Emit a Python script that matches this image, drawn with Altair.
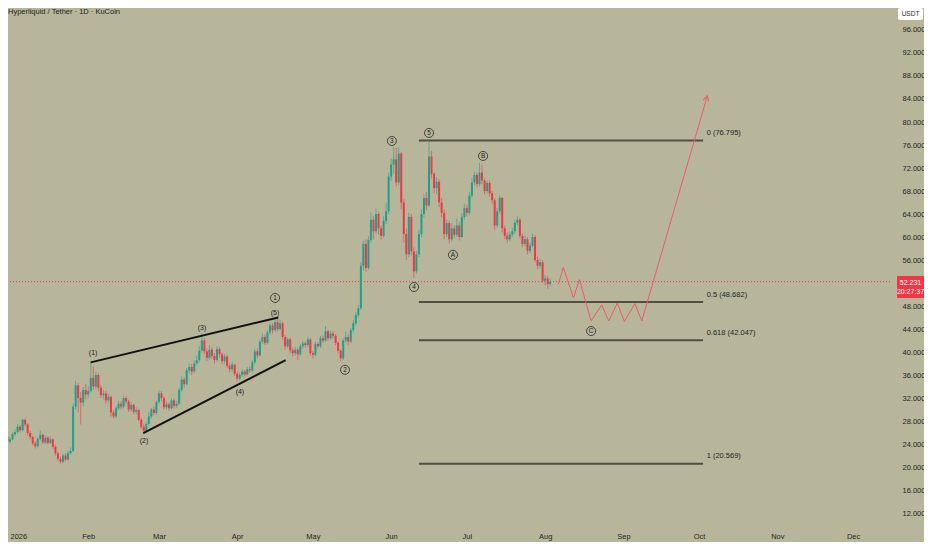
import altair as alt
import pandas as pd

FONT = "Liberation Sans Narrow, Liberation Sans, sans-serif"
BG = "#b7b69b"
UP = "#1ea18a"
DOWN = "#f23645"
TXT = "#232323"
PROJ = "#ee5a64"
FIBC = "#4f4f42"

# ---------------- candle data (daily, from 2025-12-28) ----------------
start_date = "2025-12-28"
first_open = 25.4
closes = [
    25.6, 25.9, 25.3, 24.4, 24.8, 25.7, 26.1, 27.0, 26.4, 28.2,
    27.4, 25.9, 25.2, 24.1, 23.6, 24.9, 25.6, 24.3, 25.1, 24.2,
    24.8, 23.5, 22.4, 21.4, 20.9, 22.0, 21.3, 22.4, 22.8, 30.5,
    34.2, 32.0, 31.2, 33.4, 32.6, 33.2, 35.5, 34.0, 36.0, 33.8,
    32.5, 32.8, 31.6, 32.2, 29.5, 28.8, 30.2, 31.0, 30.5, 32.0,
    31.4, 30.0, 30.8, 29.6, 29.9, 28.2, 27.0, 26.3, 27.5, 28.8,
    30.0, 29.4, 31.3, 32.8, 32.0, 30.4, 30.9, 30.2, 31.6, 30.6,
    31.0, 33.4, 35.2, 34.4, 36.8, 37.4, 36.6, 38.0, 38.6, 40.2,
    42.0, 40.1, 39.0, 40.4, 39.3, 38.6, 40.5, 39.6, 38.4, 39.2,
    37.6, 37.0, 37.8, 36.2, 35.4, 36.0, 36.6, 36.1, 37.0, 36.8,
    38.2, 40.1, 39.4, 41.8, 42.6, 41.6, 43.4, 44.6, 43.8, 45.2,
    44.0, 45.0, 42.6, 41.0, 42.2, 40.3, 39.8, 40.4, 39.6, 41.0,
    41.5, 41.2, 42.2, 39.8, 39.5, 41.4, 41.0, 42.4, 42.0, 43.6,
    42.4, 43.2, 42.8, 41.6, 40.2, 38.9, 42.0, 42.6, 41.8, 43.8,
    45.0, 46.4, 47.6, 55.0, 58.8, 54.6, 59.5, 63.0, 61.0, 64.0,
    61.5, 60.2, 62.8, 64.5, 70.5, 72.6, 73.5, 69.5, 74.5, 66.0,
    60.5, 57.0, 63.5, 57.5, 54.0, 57.0, 60.5, 64.0, 66.8, 65.5,
    74.0, 71.0, 68.5, 69.6, 66.0, 64.2, 60.5, 62.4, 59.6, 61.5,
    60.4, 62.0, 60.0, 63.5, 65.0, 64.2, 67.2, 69.5, 70.8, 69.2,
    71.2, 69.8, 68.0, 69.4, 67.6, 66.4, 62.0, 64.5, 66.8, 61.5,
    60.2, 59.6, 60.4, 61.0, 62.5, 63.0, 60.2, 58.8, 59.6, 57.6,
    58.5, 60.0, 56.0, 55.0, 55.6, 52.4, 52.8, 51.8, 52.231,
]
highs = [
    26.1, 26.3, 26.2, 25.6, 25.2, 26.0, 26.6, 27.5, 27.3, 28.4,
    28.5, 27.6, 26.3, 25.4, 24.5, 25.2, 26.4, 25.8, 25.5, 25.4,
    25.3, 25.0, 23.8, 22.6, 21.8, 22.3, 22.4, 22.8, 23.4, 31.0,
    35.0, 34.6, 33.0, 33.9, 34.4, 34.0, 38.3, 37.5, 36.5, 36.3,
    34.2, 33.4, 33.2, 32.8, 32.4, 29.9, 30.6, 31.5, 31.4, 32.4,
    32.3, 31.7, 31.3, 31.0, 30.4, 30.1, 28.5, 27.4, 27.9, 29.6,
    30.3, 30.5, 31.6, 33.4, 33.2, 32.3, 31.4, 31.2, 32.0, 31.9,
    31.5, 33.8, 35.8, 35.6, 37.2, 38.0, 37.9, 38.5, 39.4, 41.0,
    43.3, 42.4, 40.6, 41.2, 40.8, 39.8, 41.0, 40.9, 39.9, 39.7,
    39.5, 38.0, 38.3, 38.0, 36.6, 36.4, 37.0, 36.9, 37.4, 37.5,
    38.6, 40.5, 40.6, 42.2, 43.2, 43.0, 43.8, 45.1, 45.0, 45.9,
    45.8, 45.6, 45.3, 43.0, 42.6, 42.5, 40.8, 40.9, 40.7, 41.4,
    41.9, 41.8, 42.6, 42.4, 40.2, 41.8, 41.7, 42.8, 42.9, 44.5,
    43.9, 43.7, 43.6, 43.1, 41.9, 40.5, 42.4, 43.6, 43.0, 44.2,
    45.6, 46.9, 48.2, 55.6, 59.4, 59.6, 60.2, 64.3, 63.6, 65.0,
    64.4, 62.0, 63.6, 66.0, 71.2, 73.6, 75.7, 75.5, 75.6, 74.8,
    66.6, 61.5, 64.2, 64.0, 58.2, 57.6, 61.2, 64.8, 67.5, 67.8,
    76.795, 75.0, 71.2, 70.4, 70.0, 66.8, 64.8, 63.0, 62.8, 62.4,
    62.0, 63.2, 62.6, 64.2, 65.8, 65.6, 67.8, 70.2, 71.4, 71.2,
    72.9, 72.6, 70.2, 69.8, 69.8, 68.0, 66.8, 65.0, 67.2, 67.0,
    62.0, 60.8, 60.9, 61.6, 63.0, 63.6, 63.3, 60.6, 60.2, 60.0,
    59.0, 60.6, 60.3, 56.6, 56.2, 56.0, 53.4, 53.2, 52.8,
]
lows = [
    25.0, 25.3, 25.0, 24.0, 24.1, 24.6, 25.4, 25.8, 26.0, 26.2,
    27.0, 25.5, 24.8, 23.8, 23.2, 23.4, 24.6, 24.0, 24.0, 23.9,
    24.0, 23.2, 22.0, 21.0, 20.569, 20.7, 21.0, 21.1, 22.1, 22.6,
    30.0, 29.5, 27.4, 30.6, 31.8, 32.0, 33.0, 33.4, 33.6, 33.2,
    32.0, 31.8, 31.0, 31.2, 28.8, 28.4, 28.5, 29.8, 30.0, 30.2,
    30.9, 29.6, 29.7, 29.2, 29.2, 27.9, 26.6, 25.9, 26.1, 27.2,
    28.4, 29.0, 29.1, 31.0, 31.5, 30.0, 30.0, 29.8, 30.0, 30.2,
    30.3, 30.8, 33.0, 33.8, 34.2, 36.3, 36.0, 36.3, 37.6, 38.2,
    39.8, 39.6, 38.4, 38.6, 38.8, 38.0, 38.3, 39.0, 37.9, 38.0,
    37.2, 36.5, 36.6, 35.8, 34.9, 35.1, 35.7, 35.7, 35.9, 36.4,
    36.5, 37.9, 39.0, 39.2, 41.4, 41.2, 41.3, 43.0, 43.2, 43.5,
    43.6, 43.7, 42.2, 40.4, 40.7, 39.8, 39.2, 39.4, 38.6, 39.3,
    40.6, 40.8, 40.9, 39.4, 38.9, 39.3, 40.6, 40.7, 41.6, 41.8,
    42.0, 42.1, 42.3, 41.2, 39.8, 38.4, 38.6, 41.6, 41.2, 41.5,
    43.4, 44.6, 46.0, 47.3, 54.2, 54.0, 54.3, 59.0, 59.6, 60.6,
    60.4, 59.5, 59.9, 62.2, 64.0, 69.8, 71.0, 68.8, 69.0, 64.8,
    59.0, 56.0, 56.5, 56.8, 52.9, 53.6, 56.5, 60.0, 63.4, 64.6,
    65.2, 70.2, 67.6, 67.4, 65.2, 63.4, 59.6, 60.0, 58.9, 59.2,
    59.8, 60.0, 59.4, 59.8, 63.0, 63.6, 63.8, 66.8, 69.0, 68.6,
    68.8, 69.2, 67.4, 67.6, 67.0, 65.8, 61.2, 61.6, 64.0, 60.8,
    59.6, 59.0, 59.2, 60.0, 60.6, 62.0, 59.8, 58.2, 58.4, 57.0,
    57.2, 58.2, 55.6, 54.4, 54.6, 52.0, 51.6, 51.0, 51.4,
]

# ---------------- annotations ----------------
current_price = 52.231
countdown = "20:27:37"
title_text = "Hyperliquid / Tether · 1D · KuCoin"

wedge_ids = ["upper", "upper", "lower", "lower"]
wedge_dates = ["2026-02-01T23:00", "2026-04-17T07:00", "2026-02-22T19:00", "2026-04-20T05:00"]
wedge_prices = [38.2, 46.0, 25.9, 38.6]

sub_labels = ["(1)", "(2)", "(3)", "(4)", "(5)"]
sub_dates = ["2026-02-02T22:00", "2026-02-23T02:00", "2026-03-18T02:00", "2026-04-02T02:00", "2026-04-16T00:00"]
sub_prices = [39.8, 24.5, 44.2, 33.0, 46.8]

wave_labels = ["1", "2", "3", "4", "5", "A", "B", "C"]
wave_dates = ["2026-04-16T00:00", "2026-05-13T17:00", "2026-06-01T07:00", "2026-06-10T02:00",
              "2026-06-16T00:00", "2026-06-25T12:00", "2026-07-07T10:00", "2026-08-19T05:00"]
wave_prices = [49.4, 36.9, 76.7, 51.3, 78.1, 56.9, 74.1, 43.65]

fib_levels = [76.795, 48.682, 42.047, 20.569]
fib_names = ["0 (76.795)", "0.5 (48.682)", "0.618 (42.047)", "1 (20.569)"]
fib_start = "2026-06-12T00:00"
fib_end = "2026-10-02T14:00"
fib_label_date = "2026-10-04T00:00"

proj_dates = ["2026-08-06T05:00", "2026-08-08T05:00", "2026-08-12T05:00", "2026-08-14T14:00",
              "2026-08-19T05:00", "2026-08-23T10:00", "2026-08-26T05:00", "2026-08-29T14:00",
              "2026-09-01T10:00", "2026-09-05T14:00", "2026-09-08T07:00", "2026-10-04T07:00"]
proj_prices = [51.8, 54.7, 49.4, 52.6, 45.4, 48.2, 45.4, 48.5, 45.3, 48.4, 45.4, 84.6]

y_ticks = [12, 16, 20, 24, 28, 32, 36, 40, 44, 48, 56, 60, 64, 68, 72, 76, 80, 84, 88, 92, 96]

# ---------------- tables ----------------
dates = pd.date_range(start_date, periods=len(closes), freq="D")
opens = [first_open] + closes[:-1]
candles = pd.DataFrame({
    "date": dates, "open": opens, "close": closes,
    "high": [max(h, o, c) for h, o, c in zip(highs, opens, closes)],
    "low": [min(l, o, c) for l, o, c in zip(lows, opens, closes)],
})
candles["dir"] = ["up" if c >= o else "down" for o, c in zip(opens, closes)]

wedge = pd.DataFrame({"line": wedge_ids, "date": wedge_dates, "price": wedge_prices})
subs = pd.DataFrame({"label": sub_labels, "date": sub_dates, "price": sub_prices})
waves = pd.DataFrame({"label": wave_labels, "date": wave_dates, "price": wave_prices})
fibs = pd.DataFrame({"price": fib_levels, "name": fib_names, "date": fib_start, "end": fib_end,
                     "ldate": fib_label_date})
proj = pd.DataFrame({"date": proj_dates, "price": proj_prices, "order": list(range(len(proj_dates)))})
tip = proj.tail(1)
pricebox = pd.DataFrame({"top": [53.2], "bot": [49.4], "p1": [52.0], "p2": [50.35],
                         "t1": [f"{current_price:.3f}"], "t2": [countdown]})
cur = pd.DataFrame({"price": [current_price]})
one = pd.DataFrame({"t": [title_text], "u": ["USDT"]})

# ---------------- scales / axes ----------------
W, H = 882, 512
xscale = alt.Scale(domain=[alt.DateTime(year=2025, month=12, date=31, hours=5),
                           alt.DateTime(year=2026, month=12, date=15, hours=15)], nice=False)
yscale = alt.Scale(domain=[10.783, 99.826], nice=False, zero=False)
xaxis = alt.Axis(values=[alt.DateTime(year=2026, month=m, date=1) for m in range(1, 13)],
                 labelExpr="month(datum.value) == 0 ? timeFormat(datum.value, '%Y') : timeFormat(datum.value, '%b')",
                 grid=False, domain=False, ticks=False, labelFont=FONT, labelFontSize=7.5,
                 labelColor=TXT, labelPadding=12, title=None,
                 labelAlign={"condition": {"test": "month(datum.value) == 0", "value": "left"}, "value": "center"},
                 labelOverlap=False, labelFlush=False)
yaxis = alt.Axis(orient="right", values=y_ticks, format=".3f", grid=False, domain=False,
                 ticks=False, labelFont=FONT, labelFontSize=7.5, labelColor=TXT,
                 labelPadding=12, title=None, labelAlign="left", labelBaseline="middle")


def X(f="date"):
    return alt.X(f"{f}:T", scale=xscale, axis=xaxis, title=None)


def Y(f="price"):
    return alt.Y(f"{f}:Q", scale=yscale, axis=yaxis, title=None)


color = alt.Color("dir:N", scale=alt.Scale(domain=["up", "down"], range=[UP, DOWN]), legend=None)

curline = alt.Chart(cur).mark_rule(color=DOWN, strokeDash=[1, 2], strokeWidth=1).encode(y=Y("price"))
wicks = alt.Chart(candles).mark_rule(strokeWidth=1, opacity=0.6, clip=True).encode(
    x=X(), y=Y("low"), y2="high", color=color)
bodies = alt.Chart(candles).mark_rule(strokeWidth=2, clip=True).encode(
    x=X(), y=Y("open"), y2="close", color=color)

wedge_l = alt.Chart(wedge).mark_line(color="#111111", strokeWidth=2).encode(
    x=X(), y=Y(), detail="line:N")
sub_t = alt.Chart(subs).mark_text(font=FONT, fontSize=7, color=TXT).encode(
    x=X(), y=Y(), text="label:N")

wave_c = alt.Chart(waves).mark_point(shape="circle", size=82, filled=False, color="#2a2a2a",
                                     strokeWidth=0.8, opacity=1).encode(x=X(), y=Y())
wave_t = alt.Chart(waves).mark_text(font=FONT, fontSize=6.5, color=TXT).encode(
    x=X(), y=Y(), text="label:N")

fib_r = alt.Chart(fibs).mark_rule(color=FIBC, strokeWidth=2).encode(x=X(), x2="end:T", y=Y())
fib_t = alt.Chart(fibs).mark_text(font=FONT, fontSize=7.5, color=TXT, align="left",
                                  baseline="middle", dy=-7.5).encode(x=X("ldate"), y=Y(), text="name:N")

proj_l = alt.Chart(proj).mark_line(color=PROJ, strokeWidth=1).encode(x=X(), y=Y(), order="order:Q")
proj_tip = alt.Chart(tip).mark_point(shape="M-0.8,1.6L0,0L0.8,1.6", size=49, filled=False,
                                     angle=16, color=PROJ, strokeWidth=1, opacity=1).encode(x=X(), y=Y())

box = alt.Chart(pricebox).mark_rect(fill=DOWN, cornerRadius=1).encode(
    x=alt.value(889), x2=alt.value(916), y=Y("top"), y2="bot")
box_t1 = alt.Chart(pricebox).mark_text(font=FONT, fontSize=7, color="white", align="center",
                                       baseline="middle").encode(x=alt.value(902.5), y=Y("p1"), text="t1:N")
box_t2 = alt.Chart(pricebox).mark_text(font=FONT, fontSize=7, color="white", align="center",
                                       baseline="middle").encode(x=alt.value(902.5), y=Y("p2"), text="t2:N")

usdt_box = alt.Chart(one).mark_rect(fill="white", cornerRadius=2).encode(
    x=alt.value(890), x2=alt.value(915), y=alt.value(0), y2=alt.value(12))
usdt_t = alt.Chart(one).mark_text(font=FONT, fontSize=6.5, color=TXT, align="center",
                                  baseline="middle").encode(x=alt.value(902.5), y=alt.value(6), text="u:N")
title_t = alt.Chart(one).mark_text(font=FONT, fontSize=7.5, color=TXT, align="left",
                                   baseline="middle").encode(x=alt.value(0), y=alt.value(4), text="t:N")

chart = alt.layer(
    curline, wicks, bodies, wedge_l, sub_t, wave_c, wave_t, fib_r, fib_t, proj_l, proj_tip,
    box, box_t1, box_t2, usdt_box, usdt_t, title_t,
).properties(
    width=W, height=H, background=BG,
    padding={"left": 0, "top": 0, "right": 34, "bottom": 22},
    autosize=alt.AutoSizeParams(type="none"),
).configure_view(strokeWidth=0)

chart.save("out.html", embed_options={"renderer": "svg", "actions": False})
